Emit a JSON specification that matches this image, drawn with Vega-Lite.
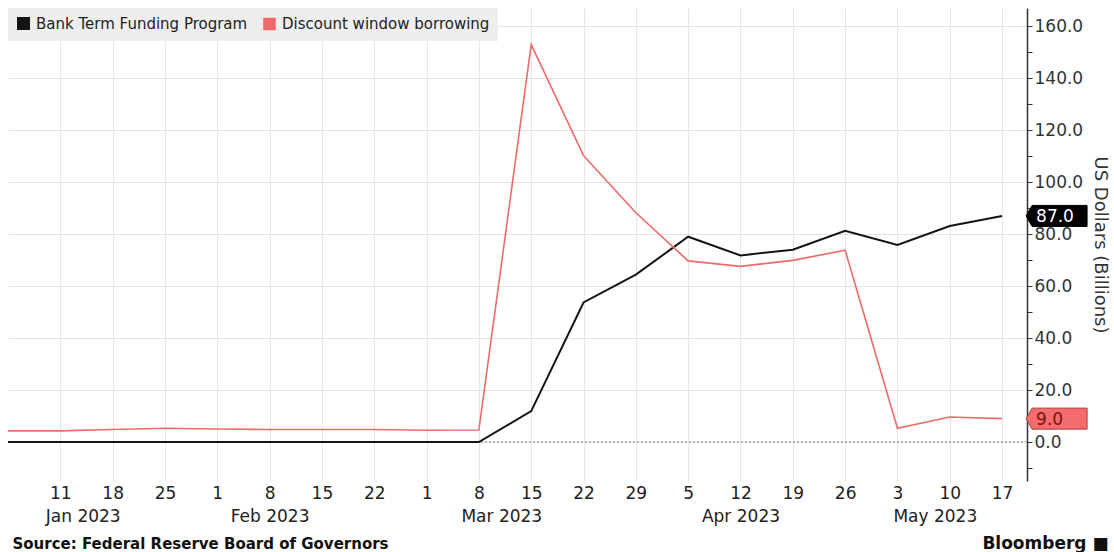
{
  "$schema": "https://vega.github.io/schema/vega-lite/v6.json",
  "width": 1019,
  "height": 473,
  "autosize": {"type": "none"},
  "padding": {"left": 8, "top": 8, "right": 87, "bottom": 71},
  "background": "white",
  "config": {"view": {"stroke": null}, "font": "DejaVu Sans"},
  "data": {
    "values": [
      {"date": "2023-01-04", "series": "Bank Term Funding Program", "value": 0},
      {"date": "2023-01-11", "series": "Bank Term Funding Program", "value": 0},
      {"date": "2023-01-18", "series": "Bank Term Funding Program", "value": 0},
      {"date": "2023-01-25", "series": "Bank Term Funding Program", "value": 0},
      {"date": "2023-02-01", "series": "Bank Term Funding Program", "value": 0},
      {"date": "2023-02-08", "series": "Bank Term Funding Program", "value": 0},
      {"date": "2023-02-15", "series": "Bank Term Funding Program", "value": 0},
      {"date": "2023-02-22", "series": "Bank Term Funding Program", "value": 0},
      {"date": "2023-03-01", "series": "Bank Term Funding Program", "value": 0},
      {"date": "2023-03-08", "series": "Bank Term Funding Program", "value": 0},
      {"date": "2023-03-15", "series": "Bank Term Funding Program", "value": 11.9},
      {"date": "2023-03-22", "series": "Bank Term Funding Program", "value": 53.7},
      {"date": "2023-03-29", "series": "Bank Term Funding Program", "value": 64.4},
      {"date": "2023-04-05", "series": "Bank Term Funding Program", "value": 79.0},
      {"date": "2023-04-12", "series": "Bank Term Funding Program", "value": 71.8},
      {"date": "2023-04-19", "series": "Bank Term Funding Program", "value": 74.0},
      {"date": "2023-04-26", "series": "Bank Term Funding Program", "value": 81.3},
      {"date": "2023-05-03", "series": "Bank Term Funding Program", "value": 75.8},
      {"date": "2023-05-10", "series": "Bank Term Funding Program", "value": 83.1},
      {"date": "2023-05-17", "series": "Bank Term Funding Program", "value": 87.0},
      {"date": "2023-01-04", "series": "Discount window borrowing", "value": 4.3},
      {"date": "2023-01-11", "series": "Discount window borrowing", "value": 4.3},
      {"date": "2023-01-18", "series": "Discount window borrowing", "value": 4.8},
      {"date": "2023-01-25", "series": "Discount window borrowing", "value": 5.3},
      {"date": "2023-02-01", "series": "Discount window borrowing", "value": 5.0},
      {"date": "2023-02-08", "series": "Discount window borrowing", "value": 4.8},
      {"date": "2023-02-15", "series": "Discount window borrowing", "value": 4.8},
      {"date": "2023-02-22", "series": "Discount window borrowing", "value": 4.8},
      {"date": "2023-03-01", "series": "Discount window borrowing", "value": 4.5},
      {"date": "2023-03-08", "series": "Discount window borrowing", "value": 4.6},
      {"date": "2023-03-15", "series": "Discount window borrowing", "value": 152.9},
      {"date": "2023-03-22", "series": "Discount window borrowing", "value": 110.2},
      {"date": "2023-03-29", "series": "Discount window borrowing", "value": 88.2},
      {"date": "2023-04-05", "series": "Discount window borrowing", "value": 69.7},
      {"date": "2023-04-12", "series": "Discount window borrowing", "value": 67.6},
      {"date": "2023-04-19", "series": "Discount window borrowing", "value": 69.9},
      {"date": "2023-04-26", "series": "Discount window borrowing", "value": 73.8},
      {"date": "2023-05-03", "series": "Discount window borrowing", "value": 5.3},
      {"date": "2023-05-10", "series": "Discount window borrowing", "value": 9.6},
      {"date": "2023-05-17", "series": "Discount window borrowing", "value": 9.0}
    ]
  },
  "layer": [
    {
      "mark": {"type": "rule", "color": "#b5b5b5", "strokeDash": [2, 2], "strokeWidth": 1},
      "encoding": {
        "y": {"datum": 0, "type": "quantitative", "axis": null}
      }
    },
    {
      "mark": {"type": "line", "interpolate": "linear"},
      "encoding": {
        "x": {
          "field": "date",
          "type": "temporal",
          "scale": {
            "type": "utc",
            "domain": [
              {"year": 2023, "month": 1, "date": 4, "utc": true},
              {"year": 2023, "month": 5, "date": 20, "hours": 8, "utc": true}
            ]
          },
          "axis": {
            "orient": "bottom",
            "values": [
              {"year": 2023, "month": 1, "date": 11, "utc": true},
              {"year": 2023, "month": 1, "date": 18, "utc": true},
              {"year": 2023, "month": 1, "date": 25, "utc": true},
              {"year": 2023, "month": 2, "date": 1, "utc": true},
              {"year": 2023, "month": 2, "date": 8, "utc": true},
              {"year": 2023, "month": 2, "date": 15, "utc": true},
              {"year": 2023, "month": 2, "date": 22, "utc": true},
              {"year": 2023, "month": 3, "date": 1, "utc": true},
              {"year": 2023, "month": 3, "date": 8, "utc": true},
              {"year": 2023, "month": 3, "date": 15, "utc": true},
              {"year": 2023, "month": 3, "date": 22, "utc": true},
              {"year": 2023, "month": 3, "date": 29, "utc": true},
              {"year": 2023, "month": 4, "date": 5, "utc": true},
              {"year": 2023, "month": 4, "date": 12, "utc": true},
              {"year": 2023, "month": 4, "date": 19, "utc": true},
              {"year": 2023, "month": 4, "date": 26, "utc": true},
              {"year": 2023, "month": 5, "date": 3, "utc": true},
              {"year": 2023, "month": 5, "date": 10, "utc": true},
              {"year": 2023, "month": 5, "date": 17, "utc": true}
            ],
            "labelExpr": "utcFormat(datum.value, '%-d')",
            "labelFontSize": 17,
            "labelColor": "#222",
            "labelPadding": 4,
            "labelOverlap": false,
            "labelFlush": false,
            "ticks": false,
            "domain": false,
            "grid": true,
            "gridColor": "#e6e6e6",
            "title": "Source: Federal Reserve Board of Governors",
            "titleFontSize": 15,
            "titleFontWeight": "bold",
            "titleColor": "#111",
            "titleAlign": "left",
            "titleBaseline": "alphabetic",
            "titleX": 4,
            "titleY": 67
          }
        },
        "y": {
          "field": "value",
          "type": "quantitative",
          "scale": {"domain": [-15, 167], "nice": false, "zero": false},
          "axis": {
            "orient": "right",
            "values": [0, 20, 40, 60, 80, 100, 120, 140, 160],
            "format": ".1f",
            "labelFontSize": 17,
            "labelColor": "#333",
            "labelPadding": 2,
            "labelOverlap": false,
            "labelFlush": false,
            "tickSize": 5,
            "tickColor": "#333",
            "domainColor": "#333",
            "domainWidth": 1.5,
            "grid": true,
            "gridColor": "#e2e2e2",
            "title": "US Dollars (Billions)",
            "titleFontSize": 18,
            "titleFontWeight": "normal",
            "titleColor": "#333",
            "titleAngle": 90,
            "titlePadding": 8
          }
        },
        "color": {
          "field": "series",
          "type": "nominal",
          "scale": {
            "domain": ["Bank Term Funding Program", "Discount window borrowing"],
            "range": ["#141414", "#ef6b6b"]
          },
          "legend": {
            "title": null,
            "orient": "top-left",
            "direction": "horizontal",
            "offset": 0,
            "padding": 8,
            "fillColor": "#eeeeee",
            "symbolType": "square",
            "symbolSize": 120,
            "symbolStrokeWidth": 0,
            "labelFontSize": 15,
            "labelColor": "#222",
            "labelOffset": 5,
            "labelLimit": 0,
            "columnPadding": 12,
            "encode": {
              "symbols": {
                "update": {
                  "fill": {"scale": "color", "field": "value"},
                  "opacity": {"value": 1}
                }
              }
            }
          }
        },
        "strokeWidth": {
          "field": "series",
          "type": "nominal",
          "scale": {
            "domain": ["Bank Term Funding Program", "Discount window borrowing"],
            "range": [2, 1.6]
          },
          "legend": null
        }
      }
    },
    {
      "transform": [{"filter": "time(datum.date) === utc(2023, 4, 17)"}],
      "mark": {
        "type": "point",
        "shape": "M 2.4 0 L 3 -1.05 L 8.5 -1.05 L 8.5 1.05 L 3 1.05 Z",
        "size": 400,
        "filled": true,
        "opacity": 1,
        "strokeWidth": 1
      },
      "encoding": {
        "x": {
          "field": "date",
          "type": "temporal",
          "axis": {
            "orient": "bottom",
            "values": [
              {"year": 2023, "month": 1, "date": 14, "utc": true},
              {"year": 2023, "month": 2, "date": 8, "utc": true},
              {"year": 2023, "month": 3, "date": 11, "utc": true},
              {"year": 2023, "month": 4, "date": 12, "utc": true},
              {"year": 2023, "month": 5, "date": 8, "utc": true}
            ],
            "labelExpr": "utcFormat(datum.value, '%b %Y')",
            "labelFontSize": 17,
            "labelColor": "#222",
            "labelPadding": 27,
            "labelOverlap": false,
            "labelFlush": false,
            "ticks": false,
            "domain": false,
            "grid": false,
            "title": "Bloomberg ■",
            "titleFontSize": 17,
            "titleFontWeight": "bold",
            "titleColor": "#111",
            "titleAlign": "right",
            "titleBaseline": "alphabetic",
            "titleX": 1100,
            "titleY": 67
          }
        },
        "y": {
          "field": "value",
          "type": "quantitative",
          "axis": {
            "orient": "right",
            "values": [-10, 10, 30, 50, 70, 90, 110, 130, 150],
            "labels": false,
            "grid": false,
            "domain": false,
            "tickSize": 5,
            "tickColor": "#333",
            "title": null
          }
        },
        "fill": {
          "condition": {"test": "datum.series === 'Bank Term Funding Program'", "value": "#000000"},
          "value": "#f46c6c"
        },
        "stroke": {
          "condition": {"test": "datum.series === 'Bank Term Funding Program'", "value": "#000000"},
          "value": "#b03a3a"
        }
      }
    },
    {
      "transform": [{"filter": "time(datum.date) === utc(2023, 4, 17)"}],
      "mark": {"type": "text", "align": "left", "baseline": "middle", "dx": 34, "dy": 1, "fontSize": 17},
      "encoding": {
        "x": {"field": "date", "type": "temporal", "axis": null},
        "y": {"field": "value", "type": "quantitative", "axis": null},
        "text": {"field": "value", "type": "quantitative", "format": ".1f"},
        "color": {
          "condition": {"test": "datum.series === 'Bank Term Funding Program'", "value": "#ffffff"},
          "value": "#7a1212"
        }
      }
    }
  ],
  "resolve": {"axis": {"x": "independent", "y": "independent"}}
}
